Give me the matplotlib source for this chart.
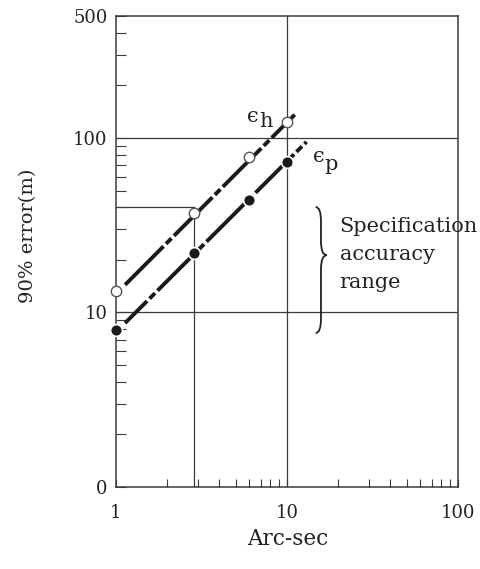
import numpy as np
import matplotlib
matplotlib.use('Agg')
import matplotlib.pyplot as plt
from matplotlib.path import Path
from matplotlib.patches import PathPatch
from matplotlib.ticker import FixedLocator, FixedFormatter, LogLocator, NullFormatter

# ---------------- data ----------------
arc_sec = [1.0, 2.85, 6.0, 10.0]
eps_h = [13.3, 37.3, 77.5, 123.0]          # open circles
eps_p = [7.95, 22.0, 44.2, 73.1]           # filled circles
eps_h_line_x = [1.13, 11.1]
eps_h_line_y = [14.4, 136.0]
eps_p_line_x = [1.13, 13.0]
eps_p_line_y = [8.7, 95.0]

x_ticks = [1, 10, 100]
x_tick_labels = ['1', '10', '100']
y_ticks = [1, 10, 100, 500]
y_tick_labels = ['0', '10', '100', '500']
grid_y_full = [10, 100]
grid_x_full = [10]
ref_y = 40
ref_x = 2.85
spec_low, spec_mid, spec_high = 7.63, 21.3, 40.2

XMIN, XMAX = 1, 100
YMIN, YMAX = 1, 500

plt.rcParams['font.family'] = ['DejaVu Serif', 'DejaVu Sans']

INK = '#1a1a1a'
GRID = '#3a3a3a'
TXT = '#222222'

fig = plt.figure(figsize=(4.81, 5.69), dpi=100)
ax = fig.add_axes([116 / 481, 82 / 569, 342 / 481, 471 / 569])
ax.set_xscale('log')
ax.set_yscale('log')
ax.set_xlim(XMIN, XMAX)
ax.set_ylim(YMIN, YMAX)

for s in ax.spines.values():
    s.set_color(GRID)
    s.set_linewidth(1.1)

ax.xaxis.set_major_locator(FixedLocator(x_ticks))
ax.xaxis.set_major_formatter(FixedFormatter(x_tick_labels))
ax.yaxis.set_major_locator(FixedLocator(y_ticks))
ax.yaxis.set_major_formatter(FixedFormatter(y_tick_labels))
ax.xaxis.set_minor_locator(LogLocator(base=10, subs=np.arange(2, 10)))
ax.yaxis.set_minor_locator(LogLocator(base=10, subs=np.arange(2, 10)))
ax.xaxis.set_minor_formatter(NullFormatter())
ax.yaxis.set_minor_formatter(NullFormatter())
ax.tick_params(axis='both', which='both', direction='in', colors=GRID,
               width=0.8, top=False, right=False)
ax.tick_params(axis='x', which='both', length=6, pad=12, labelsize=13,
               labelcolor=TXT)
ax.tick_params(axis='y', which='both', length=7, pad=6, labelsize=13,
               labelcolor=TXT)

# grid lines
for gy in grid_y_full:
    ax.axhline(gy, color=GRID, lw=0.9, zorder=1)
for gx in grid_x_full:
    ax.axvline(gx, color=GRID, lw=0.9, zorder=1)
ax.plot([XMIN, ref_x], [ref_y, ref_y], color=GRID, lw=0.9, zorder=1)
ax.plot([ref_x, ref_x], [YMIN, ref_y], color=GRID, lw=0.9, zorder=1)

# dashed fit lines
ax.plot(eps_h_line_x, eps_h_line_y, color=INK, lw=2.8, linestyle=(0, (14, 0.9, 2, 0.9)),
        dash_capstyle='butt', zorder=3)
ax.plot(eps_p_line_x, eps_p_line_y, color=INK, lw=2.8, linestyle=(6, (14, 0.9, 2, 0.9)),
        dash_capstyle='butt', zorder=3)

# markers
ax.plot(arc_sec, eps_h, 'o', mfc='white', mec='#555', ms=7.5, mew=1.0,
        zorder=5, clip_on=False)
ax.plot(arc_sec, eps_p, 'o', mfc=INK, mec='white', ms=8.5, mew=1.2,
        zorder=5, clip_on=False)

# epsilon labels
ax.text(5.85, 123.6, '\u03f5', fontsize=15, color=TXT, ha='left', va='baseline')
ax.text(6.85, 115.6, 'h', fontsize=15, color=TXT, ha='left', va='baseline')
ax.text(14.2, 72.9, '\u03f5', fontsize=15, color=TXT, ha='left', va='baseline')
ax.text(16.5, 65.6, 'p', fontsize=15, color=TXT, ha='left', va='baseline')

# curly brace for specification range (axes-fraction coordinates)
def fx(x):
    return (np.log10(x) - np.log10(XMIN)) / (np.log10(XMAX) - np.log10(XMIN))

def fy(y):
    return (np.log10(y) - np.log10(YMIN)) / (np.log10(YMAX) - np.log10(YMIN))

ua, ub, uc = fx(14.7), fx(15.8), fx(17.1)
vt, vm, vb = fy(spec_high), fy(spec_mid), fy(spec_low)
r = 0.03
verts = [(ua, vt), (ub, vt), (ub, vt - r), (ub, vm + r), (ub, vm), (uc, vm),
         (ub, vm), (ub, vm - r), (ub, vb + r), (ub, vb), (ua, vb)]
codes = [Path.MOVETO, Path.CURVE3, Path.CURVE3, Path.LINETO, Path.CURVE3, Path.CURVE3,
         Path.CURVE3, Path.CURVE3, Path.LINETO, Path.CURVE3, Path.CURVE3]
ax.add_patch(PathPatch(Path(verts, codes), transform=ax.transAxes, fill=False,
                       edgecolor=TXT, lw=1.3, clip_on=False, zorder=4))

ax.text(20.3, 13.8, 'Specification\naccuracy\nrange', fontsize=15, color=TXT,
        ha='left', va='baseline', linespacing=1.6, clip_on=False)

# axis labels
fig.text(288 / 481, 1 - 539 / 569, 'Arc-sec', fontsize=15.5, color=TXT,
         ha='center', va='center')
fig.text(28 / 481, 1 - 236 / 569, '90% error(m)', fontsize=14, color=TXT,
         rotation=90, ha='center', va='center')

fig.savefig('out.png', dpi=100, facecolor='white')
